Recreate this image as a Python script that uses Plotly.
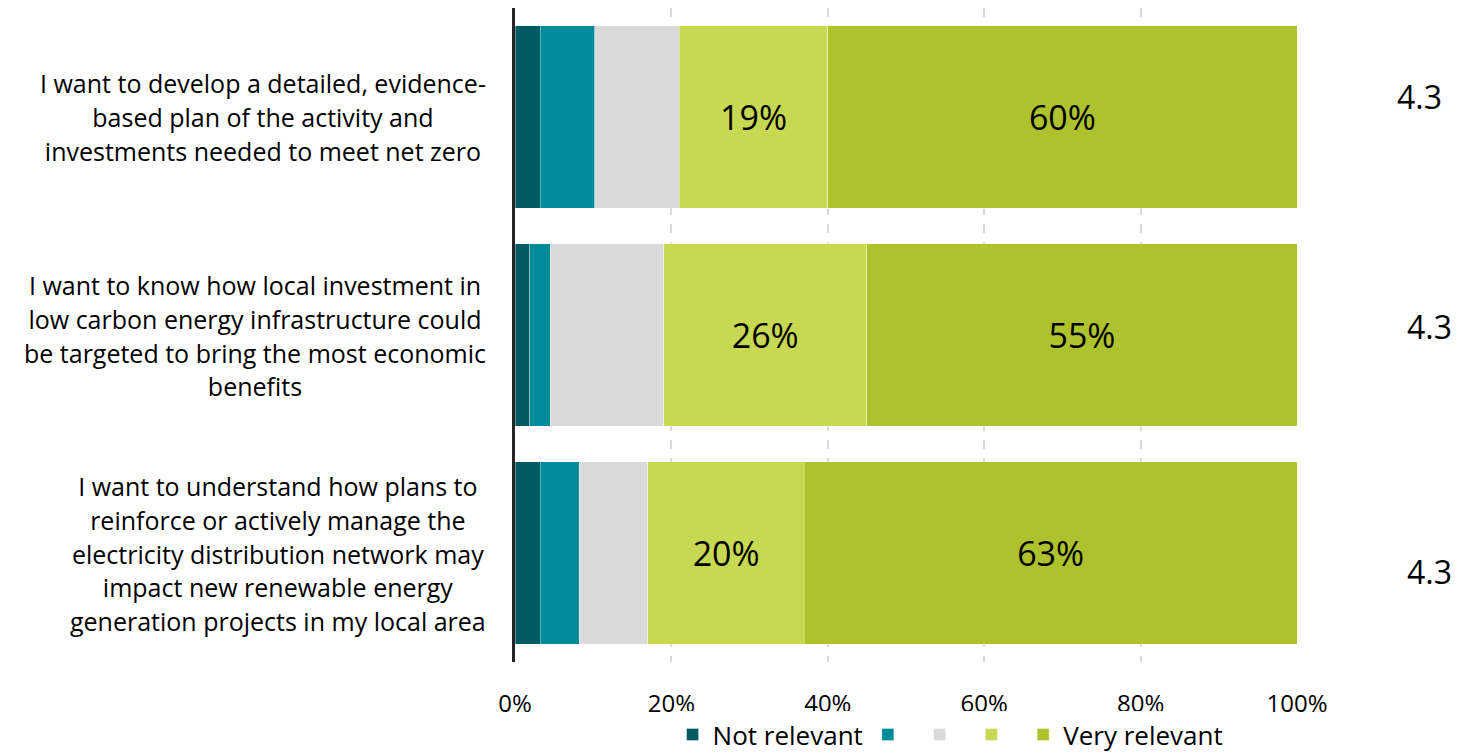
import plotly.graph_objects as go

# Survey statements (top to bottom)
statements = [
    "I want to develop a detailed, evidence-<br>based plan of the activity and<br>investments needed to meet net zero",
    "I want to know how local investment in<br>low carbon energy infrastructure could<br>be targeted to bring the most economic<br>benefits",
    "I want to understand how plans to<br>reinforce or actively manage the<br>electricity distribution network may<br>impact new renewable energy<br>generation projects in my local area",
]

# Share of respondents (%) per relevance level, 1 = not relevant ... 5 = very relevant
level_names = ["Not relevant", " ", " ", " ", "Very relevant"]
level_1 = [3.2, 1.9, 3.2]
level_2 = [7.0, 2.6, 5.0]
level_3 = [10.8, 14.5, 8.8]
level_4 = [19, 26, 20]
level_5 = [60, 55, 63]

# Mean relevance score per statement
mean_scores = [4.3, 4.3, 4.3]

x_ticks = [0, 20, 40, 60, 80, 100]
x_tick_labels = ["0%", "20%", "40%", "60%", "80%", "100%"]

colors = ["#005A63", "#008B9A", "#DADADA", "#C7D952", "#ADC22D"]
labelled = [False, False, False, True, True]

FONT = "Open Sans"

fig = go.Figure()
for name, vals, col, lab in zip(level_names,
                                [level_1, level_2, level_3, level_4, level_5],
                                colors, labelled):
    fig.add_trace(go.Bar(
        y=statements,
        x=vals,
        orientation="h",
        name=name,
        marker=dict(color=col, line=dict(color="rgba(255,255,255,0.35)", width=1)),
        text=[f"{v:.0f}%" for v in vals] if lab else None,
        textposition="inside" if lab else "none",
        insidetextanchor="middle",
        textfont=dict(family=FONT, size=34, color="#000000"),
        hoverinfo="skip",
    ))

# Statement labels, centred lines, right-aligned block next to the axis
for s in statements:
    lines = s.split("<br>")
    txt = "<br>".join(f"<span style='font-size:25px'>{ln}</span>" for ln in lines)
    fig.add_annotation(
        x=0, xref="paper", y=s, yref="y",
        text=txt, showarrow=False,
        xanchor="right", yanchor="middle", align="center",
        xshift=-27,
        font=dict(family=FONT, size=26, color="#000000"),
    )

# Mean score column on the right
score_x = [1.157, 1.170, 1.170]
score_dy = [21, 9, -18]
for s, m, sx, dy in zip(statements, mean_scores, score_x, score_dy):
    fig.add_annotation(
        x=sx, xref="paper", y=s, yref="y",
        text=f"{m:.1f}", showarrow=False,
        xanchor="center", yanchor="middle", yshift=dy,
        font=dict(family=FONT, size=32, color="#000000"),
    )

fig.update_layout(
    barmode="stack",
    bargap=0.165,
    width=1483, height=753,
    margin=dict(l=515, r=186, t=8, b=91, autoexpand=False),
    paper_bgcolor="white",
    plot_bgcolor="white",
    font=dict(family=FONT, color="#000000"),
    uniformtext=dict(mode=False),
    legend=dict(
        orientation="h",
        x=0.557, xanchor="center",
        y=-0.111, yanchor="middle",
        font=dict(family=FONT, size=26, color="#000000"),
        traceorder="normal",
        itemclick=False, itemdoubleclick=False,
    ),
    xaxis=dict(
        range=[0, 100],
        tickvals=x_ticks,
        ticktext=x_tick_labels,
        tickfont=dict(family=FONT, size=24, color="#000000"),
        showgrid=True,
        gridcolor="#D9D9D9",
        griddash="dash",
        gridwidth=2,
        zeroline=False,
        showline=False,
        ticks="",
        ticklabelstandoff=25,
        fixedrange=True,
    ),
    yaxis=dict(
        autorange="reversed",
        showticklabels=False,
        showgrid=False,
        zeroline=False,
        showline=True,
        linecolor="#262626",
        linewidth=3,
        ticks="",
        fixedrange=True,
    ),
)

fig.write_html("out.html", config={"displayModeBar": False})
